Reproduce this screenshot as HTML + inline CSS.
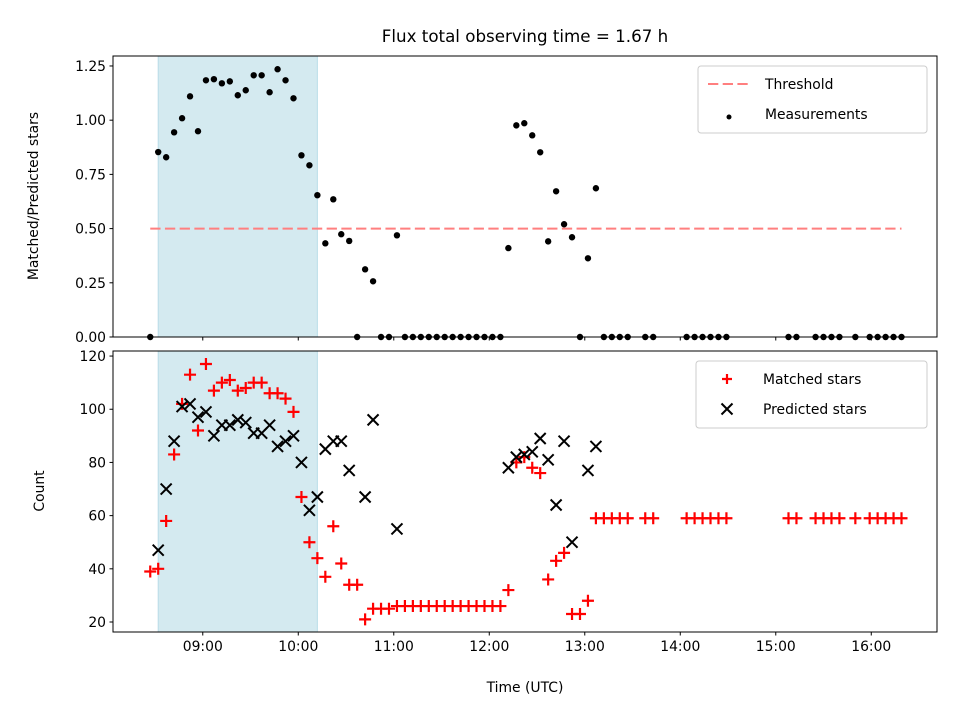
<!DOCTYPE html>
<html><head><meta charset="utf-8"><style>
body{margin:0;background:#fff}
svg{display:block;font-family:"DejaVu Sans","Liberation Sans",sans-serif}
</style></head><body>
<svg id="fig" width="960" height="720" viewBox="0 0 960 720">
<rect x="0" y="0" width="960" height="720" fill="#fff"/>
<text x="525" y="42" text-anchor="middle" font-size="16.7">Flux total observing time = 1.67 h</text>
<g id="topPanel"></g>
<g id="botPanel"></g>
<text x="525" y="692" text-anchor="middle" font-size="13.9">Time (UTC)</text>
<text transform="translate(38,196) rotate(-90)" text-anchor="middle" font-size="13.9">Matched/Predicted stars</text>
<text transform="translate(44,491) rotate(-90)" text-anchor="middle" font-size="13.9">Count</text>
</svg>
<script>
// minutes since midnight
const times = [507,512,517,522,527,532,537,542,547,552,557,562,567,572,577,582,587,592,597,602,607,612,617,622,627,632,637,642,647,652,657,662,667,672,677,682,687,692,697,702,707,712,717,722,727,732,737,742,747,752,757,762,767,772,777,782,787,792,797,802,807,818,823,844,849,854,859,864,869,908,913,925,930,935,940,950,959,964,969,974,979];
const matched = [39,40,58,83,102,113,92,117,107,110,111,107,108,110,110,106,106,104,99,67,50,44,37,56,42,34,34,21,25,25,25,26,26,26,26,26,26,26,26,26,26,26,26,26,26,32,80,82,78,76,36,43,46,23,23,28,59,59,59,59,59,59,59,59,59,59,59,59,59,59,59,59,59,59,59,59,59,59,59,59,59];
const predicted = [null,47,70,88,101,102,97,99,90,94,94,96,95,91,91,94,86,88,90,80,62,67,85,88,88,77,null,67,96,null,null,55,null,null,null,null,null,null,null,null,null,null,null,null,null,78,82,83,84,89,81,64,88,50,null,77,86,null,null,null,null,null,null,null,null,null,null,null,null,null,null,null,null,null,null,null,null,null,null,null,null];
const ratio = [0,0.853,0.829,0.944,1.009,1.110,0.949,1.184,1.189,1.170,1.179,1.115,1.138,1.207,1.207,1.129,1.235,1.184,1.101,0.838,0.792,0.654,0.432,0.635,0.474,0.443,0,0.312,0.257,0,0,0.469,0,0,0,0,0,0,0,0,0,0,0,0,0,0.41,0.976,0.986,0.930,0.852,0.441,0.672,0.520,0.460,0,0.363,0.686,0,0,0,0,0,0,0,0,0,0,0,0,0,0,0,0,0,0,0,0,0,0,0,0];
const threshold = 0.5;
const xTicks = [540,600,660,720,780,840,900,960];
const xTickLabels = ["09:00","10:00","11:00","12:00","13:00","14:00","15:00","16:00"];
const topTicks = [0,0.25,0.5,0.75,1.0,1.25];
const topTickLabels = ["0.00","0.25","0.50","0.75","1.00","1.25"];
const botTicks = [20,40,60,80,100,120];
const botTickLabels = ["20","40","60","80","100","120"];
const spanStart = 512, spanEnd = 612;

const NS="http://www.w3.org/2000/svg";
const L=113,R=937;
const xMin=483.6,xMax=1001.3;
function x(m){return L+(m-xMin)/(xMax-xMin)*(R-L);}
const T1=56,B1=337,T2=351,B2=632;
function y1(v){return B1-(v-0)/(1.296-0)*(B1-T1);}
function y2(v){return B2-(v-16.24)/(121.9-16.24)*(B2-T2);}
function mk(parent,tag,attrs){const e=document.createElementNS(NS,tag);for(const k in attrs)e.setAttribute(k,attrs[k]);parent.appendChild(e);return e;}

function panel(g,T,B,yf,ticks,labels,name){
  const sp=mk(g,'rect',{x:x(spanStart),y:T,width:x(spanEnd)-x(spanStart),height:B-T,fill:'#d4eaf0',stroke:'#b9dde8','stroke-width':1});
  
  
  ticks.forEach((v,i)=>{
    const yy=yf(v);
    const t=mk(g,'line',{x1:L-3.5,x2:L,y1:yy,y2:yy,stroke:'#000','stroke-width':1});
    
    
    const tx=mk(g,'text',{x:L-7,y:yy+5,'text-anchor':'end','font-size':13.9});
    tx.textContent=labels[i];
    
    
  });
  xTicks.forEach((m,i)=>{
    const xx=x(m);
    const t=mk(g,'line',{x1:xx,x2:xx,y1:B,y2:B+3.5,stroke:'#000','stroke-width':1});
    
    
    if(name==='bottom'){
      const tx=mk(g,'text',{x:xx,y:B+19,'text-anchor':'middle','font-size':13.9});
      tx.textContent=xTickLabels[i];
      
      
    }
  });
}
const topG=document.getElementById('topPanel'), botG=document.getElementById('botPanel');
panel(topG,T1,B1,y1,topTicks,topTickLabels,'top');
panel(botG,T2,B2,y2,botTicks,botTickLabels,'bottom');

const th=mk(topG,'line',{x1:x(times[0]),x2:x(times[times.length-1]),y1:y1(threshold),y2:y1(threshold),stroke:'#ff7f7f','stroke-width':2,'stroke-dasharray':'10.3,4.4'});


times.forEach((m,i)=>{
  const c=mk(topG,'circle',{cx:x(m),cy:y1(ratio[i]),r:3.2,fill:'#000'});
  
  
});
times.forEach((m,i)=>{
  const cx=x(m),cy=y2(matched[i]),s=6;
  const p=mk(botG,'path',{d:`M${cx-s},${cy}H${cx+s}M${cx},${cy-s}V${cy+s}`,stroke:'#f00','stroke-width':2.2,fill:'none'});
  
  
});
times.forEach((m,i)=>{
  if(predicted[i]===null)return;
  const cx=x(m),cy=y2(predicted[i]),s=5.5;
  const p=mk(botG,'path',{d:`M${cx-s},${cy-s}L${cx+s},${cy+s}M${cx-s},${cy+s}L${cx+s},${cy-s}`,stroke:'#000','stroke-width':2,fill:'none'});
  
  
});
[[topG,T1,B1,'top-frame'],[botG,T2,B2,'bottom-frame']].forEach(([g,T,B,n])=>{
  const r=mk(g,'rect',{x:L,y:T,width:R-L,height:B-T,fill:'none',stroke:'#000','stroke-width':1});
  
  
});
function legend(g,x0,y0,w,h,entries,name){
  const lg=mk(g,'g',{});
  
  
  mk(lg,'rect',{x:x0,y:y0,width:w,height:h,rx:3,fill:'#fff','fill-opacity':0.8,stroke:'#ccc','stroke-width':1});
  entries.forEach((e,i)=>{
    const yy=y0+18+i*30;
    const eg=mk(lg,'g',{});
    
    
    if(e.type==='dash') mk(eg,'line',{x1:x0+10,x2:x0+52,y1:yy,y2:yy,stroke:'#ff7f7f','stroke-width':2,'stroke-dasharray':'10.3,4.4'});
    if(e.type==='dot') mk(eg,'circle',{cx:x0+31,cy:yy+3,r:2.5,fill:'#000'});
    if(e.type==='plus') mk(eg,'path',{d:`M${x0+31-5},${yy}H${x0+31+5}M${x0+31},${yy-5}V${yy+5}`,stroke:'#f00','stroke-width':2.2});
    if(e.type==='x') mk(eg,'path',{d:`M${x0+31-5.5},${yy-5.5}L${x0+31+5.5},${yy+5.5}M${x0+31-5.5},${yy+5.5}L${x0+31+5.5},${yy-5.5}`,stroke:'#000','stroke-width':2});
    const t=mk(eg,'text',{x:x0+67,y:yy+5,'font-size':13.9});
    t.textContent=e.label;
  });
}
legend(topG,698,66,229,67,[{type:'dash',label:'Threshold'},{type:'dot',label:'Measurements'}],'top-legend');
legend(botG,696,361,231,67,[{type:'plus',label:'Matched stars'},{type:'x',label:'Predicted stars'}],'bottom-legend');
</script>
</body></html>
